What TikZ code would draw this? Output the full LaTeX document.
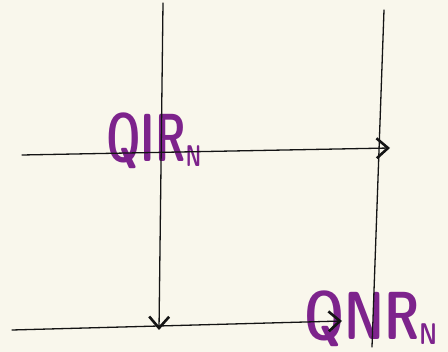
\documentclass[tikz,border=0pt]{standalone}
\usepackage{fontspec}
\usetikzlibrary{arrows.meta}
\definecolor{paper}{RGB}{249,247,236}
\definecolor{ink}{RGB}{20,20,20}
\definecolor{plum}{RGB}{125,35,140}
\tikzset{
  stroke/.style={draw=ink,line width=1.3pt,line cap=round},
  arr/.style={stroke,-{Straight Barb[length=4mm,width=7mm,line width=2.6pt]}},
  lbl/.style={text=plum,font=\fontsize{68}{68}\sffamily\bfseries,inner sep=0pt,anchor=base west},
}
\newcommand{\handsub}[1]{\raisebox{-5pt}{\fontsize{30}{30}\selectfont #1}}
\begin{document}
\begin{tikzpicture}[x=1pt,y=-1pt]
  \fill[paper] (0,0) rectangle (448,352);
  \useasboundingbox (0,0) rectangle (448,352);
  % ends of the strokes
  \coordinate (lt) at (163,3);
  \coordinate (lb) at (159,330);
  \coordinate (rt) at (384,10);
  \coordinate (rb) at (372,347);
  \coordinate (tw) at (22,155);
  \coordinate (te) at (390,148);
  \coordinate (bw) at (12,330);
  \coordinate (be) at (342,321);
  % labels
  \node[lbl] (qir) at (106,162) {\scalebox{0.64}[1]{QIR\handsub{N}}};
  \node[lbl] (qnr) at (304,340) {\scalebox{0.74}[1]{QNR\handsub{N}}};
  % lines
  \draw[arr] (lt) -- (lb);
  \draw[stroke] (rt) -- (rb);
  \draw[arr] (tw) -- (te);
  \draw[arr] (bw) -- (be);
\end{tikzpicture}
\end{document}
